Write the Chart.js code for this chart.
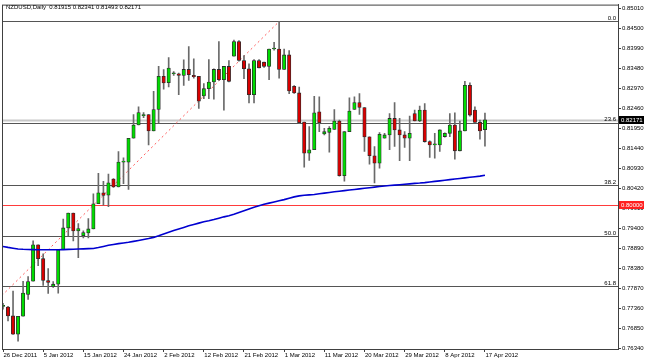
<!DOCTYPE html>
<html lang="en">
<head>
<meta charset="UTF-8">
<title>NZDUSD,Daily</title>
<script src="https://cdn.jsdelivr.net/npm/chart.js"></script>
<style>
  html, body { margin: 0; padding: 0; background: #fff; }
  #chart { display: block; }
</style>
</head>
<body>
<canvas id="chart" width="645" height="362"></canvas>
<script>
// one bar per trading day (this broker has Sunday bars)
const dates = [
  '26 Dec 2011','27 Dec 2011','28 Dec 2011','29 Dec 2011','30 Dec 2011',
  '2 Jan 2012','3 Jan 2012','4 Jan 2012','5 Jan 2012','6 Jan 2012','8 Jan 2012','9 Jan 2012','10 Jan 2012','11 Jan 2012','12 Jan 2012','13 Jan 2012',
  '15 Jan 2012','16 Jan 2012','17 Jan 2012','18 Jan 2012','19 Jan 2012','20 Jan 2012','22 Jan 2012','23 Jan 2012','24 Jan 2012','25 Jan 2012','26 Jan 2012','27 Jan 2012',
  '29 Jan 2012','30 Jan 2012','31 Jan 2012','1 Feb 2012','2 Feb 2012','3 Feb 2012','5 Feb 2012','6 Feb 2012','7 Feb 2012','8 Feb 2012','9 Feb 2012','10 Feb 2012',
  '12 Feb 2012','13 Feb 2012','14 Feb 2012','15 Feb 2012','16 Feb 2012','17 Feb 2012','19 Feb 2012','20 Feb 2012','21 Feb 2012','22 Feb 2012','23 Feb 2012','24 Feb 2012',
  '26 Feb 2012','27 Feb 2012','28 Feb 2012','29 Feb 2012','1 Mar 2012','2 Mar 2012','4 Mar 2012','5 Mar 2012','6 Mar 2012','7 Mar 2012','8 Mar 2012','9 Mar 2012',
  '11 Mar 2012','12 Mar 2012','13 Mar 2012','14 Mar 2012','15 Mar 2012','16 Mar 2012','18 Mar 2012','19 Mar 2012','20 Mar 2012','21 Mar 2012','22 Mar 2012','23 Mar 2012',
  '25 Mar 2012','26 Mar 2012','27 Mar 2012','28 Mar 2012','29 Mar 2012','30 Mar 2012','1 Apr 2012','2 Apr 2012','3 Apr 2012','4 Apr 2012','5 Apr 2012','6 Apr 2012',
  '8 Apr 2012','9 Apr 2012','10 Apr 2012','11 Apr 2012','12 Apr 2012','13 Apr 2012','15 Apr 2012','16 Apr 2012','17 Apr 2012'
];

const open = [
  0.77405,0.77387,0.77159,0.76695,0.77151,0.77709,0.78046,0.78977,0.78622,0.78064,
  0.77912,0.77970,0.78850,0.79407,0.79788,0.79331,0.79205,0.79281,0.79382,0.80024,
  0.80302,0.80244,0.80657,0.80454,0.81088,0.81088,0.81697,0.82036,0.82272,0.82305,
  0.81884,0.82432,0.83279,0.83116,0.83345,0.83344,0.83304,0.83456,0.83304,0.83279,
  0.82779,0.82964,0.83134,0.83456,0.83192,0.83532,0.83793,0.84166,0.83684,0.83472,
  0.82812,0.83684,0.83641,0.83532,0.83978,0.83978,0.83456,0.83826,0.83025,0.82855,
  0.82112,0.81316,0.81403,0.82374,0.81808,0.81849,0.81925,0.82138,0.80743,0.81866,
  0.82432,0.82609,0.82482,0.81732,0.81250,0.81063,0.81697,0.81783,0.82204,0.81910,
  0.81783,0.81697,0.82330,0.82138,0.82417,0.81613,0.81529,0.81529,0.81740,0.81823,
  0.82036,0.81377,0.81884,0.83050,0.82417,0.82102,0.81915
];
const high = [
  0.77481,0.77405,0.77793,0.77151,0.78046,0.78165,0.79078,0.78977,0.78748,0.78368,
  0.78039,0.78850,0.79636,0.79788,0.79788,0.79516,0.79331,0.79643,0.80277,0.80802,
  0.80599,0.80784,0.80670,0.81359,0.81200,0.81697,0.82305,0.82500,0.82356,0.82305,
  0.82898,0.83532,0.83450,0.83755,0.83400,0.83360,0.83699,0.84039,0.83725,0.83279,
  0.83091,0.83709,0.83472,0.84166,0.83532,0.83684,0.84206,0.84191,0.83811,0.83598,
  0.83709,0.83709,0.83641,0.83978,0.84148,0.84680,0.83978,0.83938,0.83040,0.83007,
  0.82112,0.81993,0.82771,0.82754,0.81950,0.81993,0.82432,0.82163,0.81866,0.82728,
  0.82754,0.82837,0.82482,0.81732,0.81486,0.81840,0.81824,0.82330,0.82609,0.82204,
  0.81866,0.82264,0.82417,0.82518,0.82584,0.81630,0.81823,0.81910,0.81835,0.82330,
  0.82348,0.82138,0.83152,0.83116,0.82500,0.82163,0.82341
];
const low = [
  0.77329,0.77032,0.76690,0.76517,0.77151,0.77582,0.78046,0.78444,0.77937,0.77734,
  0.77886,0.77742,0.78850,0.79205,0.79078,0.78647,0.79154,0.79154,0.79382,0.80024,
  0.79991,0.79947,0.80440,0.80454,0.80540,0.80389,0.81697,0.82036,0.82221,0.81529,
  0.81884,0.82095,0.82950,0.83007,0.83300,0.82812,0.83050,0.83177,0.83235,0.82457,
  0.82711,0.82711,0.82695,0.83177,0.82417,0.83134,0.83793,0.83666,0.83218,0.82602,
  0.82602,0.83497,0.83510,0.83192,0.83945,0.83235,0.83456,0.82837,0.82840,0.82077,
  0.80961,0.81131,0.81403,0.81866,0.81783,0.81342,0.81925,0.80726,0.80599,0.81866,
  0.82432,0.82305,0.81359,0.81038,0.80556,0.80936,0.81697,0.81403,0.81486,0.81124,
  0.81461,0.81124,0.82138,0.82121,0.81595,0.81207,0.81190,0.81359,0.81727,0.81740,
  0.81164,0.81377,0.81884,0.82264,0.82102,0.81671,0.81493
];
const close = [
  0.77405,0.77159,0.76695,0.77151,0.77742,0.78039,0.78977,0.78622,0.78064,0.78013,
  0.77970,0.78850,0.79407,0.79788,0.79331,0.79390,0.79288,0.79382,0.80024,0.80302,
  0.80236,0.80561,0.80454,0.81088,0.81098,0.81697,0.82036,0.82356,0.82305,0.81884,
  0.82432,0.83279,0.83109,0.83489,0.83350,0.83304,0.83456,0.83319,0.83268,0.82645,
  0.82964,0.83134,0.83456,0.83192,0.83532,0.83152,0.84166,0.83684,0.83472,0.82812,
  0.83684,0.83497,0.83532,0.83978,0.83985,0.83456,0.83826,0.82906,0.82855,0.82095,
  0.81316,0.81403,0.82348,0.82095,0.81866,0.81950,0.82138,0.80743,0.81866,0.82391,
  0.82609,0.82482,0.81732,0.81250,0.81063,0.81798,0.81783,0.82204,0.81910,0.81783,
  0.81697,0.81823,0.82138,0.82417,0.81613,0.81529,0.81535,0.81910,0.81823,0.82036,
  0.81377,0.81884,0.83050,0.82290,0.82102,0.81884,0.82171
];

// blue moving average
const ma = [
  0.78933,0.78910,0.78890,0.78870,0.78862,0.78857,0.78853,0.78850,0.78849,0.78848,
  0.78848,0.78850,0.78853,0.78858,0.78863,0.78868,0.78873,0.78878,0.78883,0.78905,
  0.78935,0.78963,0.78985,0.79005,0.79022,0.79040,0.79063,0.79088,0.79112,0.79137,
  0.79165,0.79205,0.79250,0.79295,0.79340,0.79380,0.79420,0.79460,0.79495,0.79530,
  0.79565,0.79590,0.79620,0.79655,0.79690,0.79720,0.79755,0.79800,0.79845,0.79890,
  0.79935,0.79975,0.80010,0.80040,0.80070,0.80100,0.80130,0.80165,0.80200,0.80225,
  0.80240,0.80252,0.80262,0.80280,0.80297,0.80313,0.80330,0.80345,0.80360,0.80375,
  0.80390,0.80405,0.80420,0.80435,0.80450,0.80465,0.80478,0.80489,0.80500,0.80511,
  0.80522,0.80533,0.80544,0.80553,0.80565,0.80580,0.80595,0.80610,0.80625,0.80640,
  0.80655,0.80670,0.80685,0.80700,0.80715,0.80730,0.80751
];

const yTicks = [0.85010,0.84500,0.83990,0.83480,0.82970,0.82460,0.81950,0.81440,0.80930,
  0.80420,0.79910,0.79400,0.78890,0.78380,0.77870,0.77360,0.76850,0.76340];
const xTickIdx = [0,8,16,24,32,40,48,56,64,72,80,88,96];

// fibonacci retracement anchors (low is off the left edge)
const fibLow = 0.73728, fibLowBar = -31.4;
const fibHigh = 0.84680, fibHighBar = 55;
const fibLevels = [0, 23.6, 38.2, 50, 61.8, 100];
const roundLevel = 0.80000;

const GREEN = '#00dc00', RED = '#d80000';
const FONT = { family: '"Liberation Sans", Arial, sans-serif', size: 6 };
const last = close.length - 1;

const mtOverlay = {
  id: 'mtOverlay',
  beforeDatasetsDraw(chart) {
    const { ctx, chartArea: a, scales: { y } } = chart;
    const hline = (v, color, w) => {
      const py = Math.round(y.getPixelForValue(v)) + 0.5;
      ctx.strokeStyle = color;
      ctx.lineWidth = w;
      ctx.beginPath();
      ctx.moveTo(a.left, py);
      ctx.lineTo(a.right, py);
      ctx.stroke();
    };
    ctx.save();
    ctx.beginPath();
    ctx.rect(a.left, a.top, a.right - a.left, a.bottom - a.top);
    ctx.clip();
    hline(close[last], '#c8c8c8', 2);
    fibLevels.forEach(l => hline(fibHigh - l / 100 * (fibHigh - fibLow), '#555555', 1));
    hline(roundLevel, '#ff3b3b', 1);
    ctx.restore();
  },
  afterDraw(chart) {
    const { ctx, chartArea: a, scales: { y } } = chart;
    ctx.save();
    ctx.font = FONT.size + 'px ' + FONT.family;

    // frame
    ctx.strokeStyle = '#404040';
    ctx.lineWidth = 1;
    ctx.strokeRect(a.left + 0.5, a.top + 0.5, a.right - a.left, a.bottom - a.top);

    // fib level captions
    ctx.fillStyle = '#000';
    ctx.textAlign = 'right';
    ctx.textBaseline = 'bottom';
    fibLevels.forEach(l => {
      const py = y.getPixelForValue(fibHigh - l / 100 * (fibHigh - fibLow));
      if (py > a.top && py < a.bottom) ctx.fillText(l.toFixed(1), a.right - 2, py);
    });

    // title
    ctx.textAlign = 'left';
    ctx.textBaseline = 'middle';
    ctx.fillText('NZDUSD,Daily  ' + [open[last], high[last], low[last], close[last]]
      .map(v => v.toFixed(5)).join(' '), 6, 7);

    // price boxes on the axis
    const box = (v, bg) => {
      const py = Math.round(y.getPixelForValue(v));
      ctx.fillStyle = bg;
      ctx.fillRect(a.right + 1, py - 4, 25, 8);
      ctx.fillStyle = '#fff';
      ctx.fillText(v.toFixed(5), a.right + 3, py + 0.5);
    };
    box(close[last], '#000');
    box(roundLevel, '#ff2020');
    ctx.restore();
  }
};

new Chart(document.getElementById('chart').getContext('2d'), {
  type: 'bar',
  data: {
    datasets: [
      {
        type: 'line',
        data: ma.map((v, i) => ({ x: i, y: v })),
        borderColor: '#0000d0',
        borderWidth: 1.6,
        pointRadius: 0,
        order: 0
      },
      {
        data: open.map((o, i) => ({ x: i, y: [o, close[i]] })),
        backgroundColor: open.map((o, i) => close[i] >= o ? GREEN : RED),
        borderColor: '#2a2a2a',
        borderWidth: 0.8,
        borderSkipped: false,
        barThickness: 3.4,
        minBarLength: 1,
        grouped: false,
        order: 1
      },
      {
        data: low.map((l, i) => ({ x: i, y: [l, high[i]] })),
        backgroundColor: '#6a6a6a',
        barThickness: 1,
        grouped: false,
        order: 2
      },
      {
        type: 'line',
        data: [{ x: fibLowBar, y: fibLow }, { x: fibHighBar, y: fibHigh }],
        borderColor: '#ff5a5a',
        borderWidth: 1,
        borderDash: [2, 3],
        pointRadius: 0,
        order: 3
      }
    ]
  },
  options: {
    responsive: false,
    animation: false,
    layout: { padding: { left: 2, top: 2, right: 0, bottom: 0 } },
    plugins: { legend: { display: false }, tooltip: { enabled: false } },
    scales: {
      x: {
        type: 'linear',
        offset: false,
        min: -0.2,
        max: 122.5,
        afterBuildTicks: s => { s.ticks = xTickIdx.map(v => ({ value: v })); },
        afterFit: s => { s.height = 13; },
        grid: { offset: false, drawOnChartArea: false, drawTicks: true, tickLength: 3, color: '#404040' },
        border: { display: true, color: '#404040' },
        ticks: {
          autoSkip: false, maxRotation: 0, align: 'start', padding: 0, labelOffset: 0.5,
          color: '#000', font: FONT,
          callback: v => dates[v]
        }
      },
      y: {
        position: 'right',
        min: 0.763145,
        max: 0.851114,
        afterBuildTicks: s => { s.ticks = yTicks.map(v => ({ value: v })); },
        afterFit: s => { s.width = 27; },
        grid: { drawOnChartArea: false, drawTicks: true, tickLength: 3, color: '#404040' },
        border: { display: true, color: '#404040' },
        ticks: { padding: 1, color: '#000', font: FONT, callback: v => v.toFixed(5) }
      }
    }
  },
  plugins: [mtOverlay]
});
</script>
</body>
</html>
